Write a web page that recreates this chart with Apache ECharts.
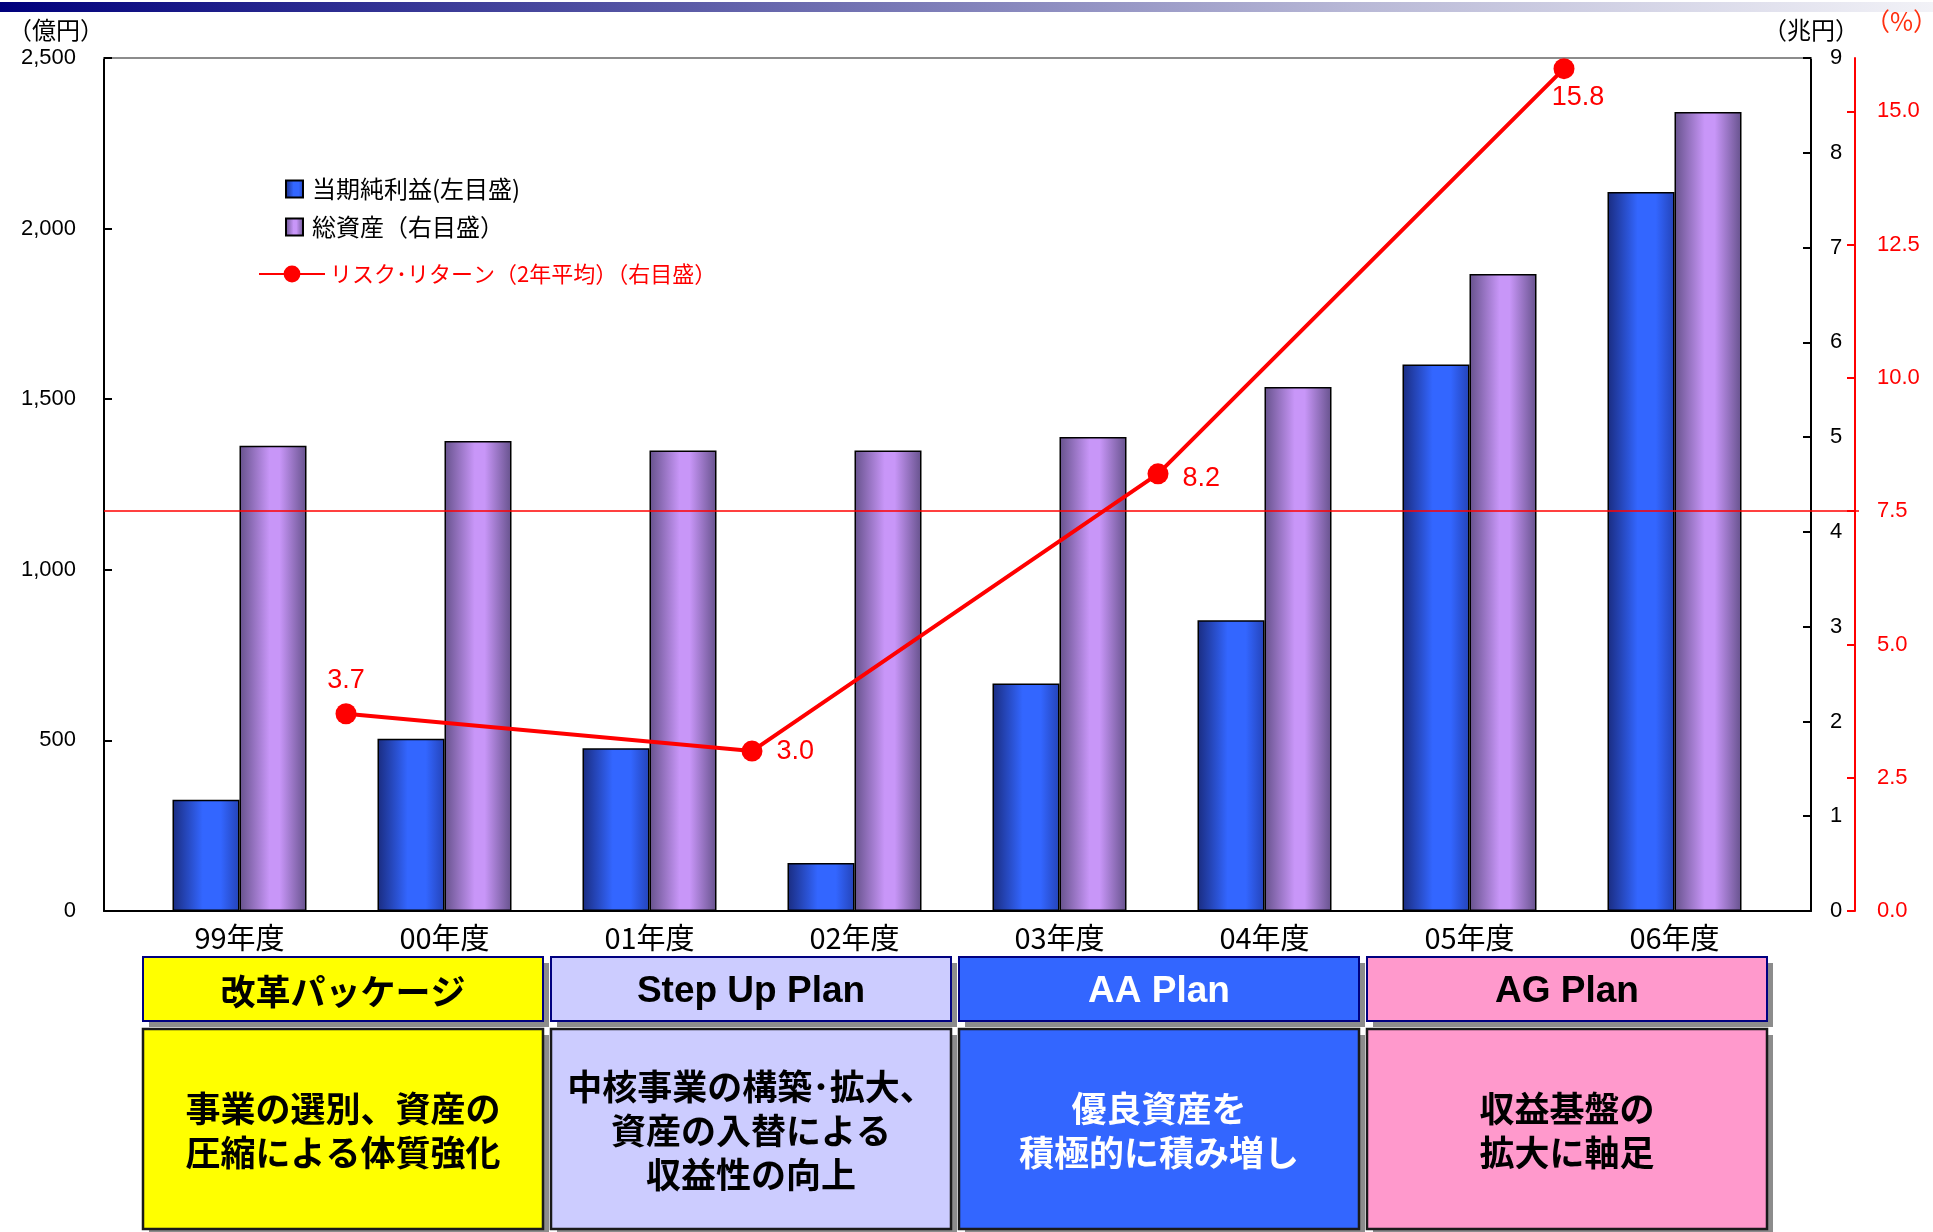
<!DOCTYPE html>
<html>
<head>
<meta charset="utf-8">
<script src="https://cdn.jsdelivr.net/npm/echarts@6/dist/echarts.min.js"></script>
<style>
  html, body { margin: 0; padding: 0; background: #ffffff; }
  #chart { width: 1933px; height: 1232px; }
</style>
</head>
<body>
<div id="chart"></div>
<script>
// ---- data ----
const categories = ['99年度', '00年度', '01年度', '02年度', '03年度', '04年度', '05年度', '06年度'];
const netIncome = [326, 505, 477, 141, 667, 852, 1602, 2107];            // 億円, left scale
const totalAssets = [4.91, 4.96, 4.86, 4.86, 5.00, 5.53, 6.72, 8.43];     // 兆円, right scale
const periods = ['99-00年度', '01-02年度', '03-04年度', '05-06年度'];
const riskReturn = [3.7, 3.0, 8.2, 15.8];                                 // %, 2-year average
const hurdleRate = 7.5;                                                   // % reference level
const pctTicks = [0, 2.5, 5, 7.5, 10, 12.5, 15];
const plans = ['改革パッケージ', 'Step Up Plan', 'AA Plan', 'AG Plan'];
const planNotes = [
  '事業の選別、資産の\n圧縮による体質強化',
  '中核事業の構築･拡大、\n資産の入替による\n収益性の向上',
  '優良資産を\n積極的に積み増し',
  '収益基盤の\n拡大に軸足'
];

const NAME_INCOME = '当期純利益(左目盛)';
const NAME_ASSETS = '総資産（右目盛）';
const NAME_RR = 'リスク･リターン（2年平均）（右目盛）';

// ---- layout / style ----
const W = 1933, H = 1232;
const FRAME = { left: 104, right: 1811, top: 58, bottom: 911 };
const BARS = { left: 137, right: 1777 };     // band area of the yearly bars
const LINE = { left: 143, right: 1767 };     // band area of the two-year line
const PLAN_AREA = { left: 139, right: 1771 }; // strip of plan boxes below the chart
const RED_AXIS_X = 1855;
const LATIN = '"Liberation Sans", "Noto Sans CJK JP", sans-serif';
const CJK = '"Noto Sans CJK JP", "Liberation Sans", sans-serif';
const RED = '#ff0000';

const rrLabelLayout = [
  { position: 'top', distance: 9 },
  { position: 'right', distance: 14 },
  { position: 'right', distance: 14, offset: [0, 5] },
  { position: 'bottom', distance: 5, offset: [14, 0] }
];
const planFill = ['#ffff00', '#ccccff', '#3366ff', '#ff99cc'];
const planInk = ['#000000', '#000000', '#ffffff', '#000000'];

function hGrad(stops) {
  return { type: 'linear', x: 0, y: 0, x2: 1, y2: 0,
    colorStops: stops.map(s => ({ offset: s[0], color: s[1] })) };
}
function gridBox(l, r) {
  return { left: l, right: W - r, top: FRAME.top, bottom: H - FRAME.bottom,
    outerBoundsMode: 'none', containLabel: false };
}

const chart = echarts.init(document.getElementById('chart'), null, { renderer: 'canvas' });

const option = {
  animation: false,
  backgroundColor: '#ffffff',
  textStyle: { fontFamily: LATIN },
  grid: [
    gridBox(FRAME.left, FRAME.right),
    gridBox(BARS.left, BARS.right),
    gridBox(LINE.left, LINE.right)
  ],
  legend: [
    {
      data: [NAME_INCOME, NAME_ASSETS],
      orient: 'vertical', left: 280, top: 172,
      icon: 'rect', itemWidth: 17, itemHeight: 17, itemGap: 14,
      textStyle: { fontSize: 24, color: '#000', fontFamily: CJK, padding: [0, 0, 0, 4] },
      selectedMode: false
    },
    {
      data: [NAME_RR],
      orient: 'vertical', left: 253, top: 258,
      itemWidth: 66, itemHeight: 21,
      textStyle: { fontSize: 22, color: RED, fontFamily: CJK },
      selectedMode: false
    }
  ],
  xAxis: [
    { // fiscal years
      gridIndex: 1, type: 'category', data: categories,
      axisLine: { show: false }, axisTick: { show: false },
      axisLabel: { fontSize: 29, color: '#000', margin: 12, fontFamily: CJK }
    },
    { // two-year periods for the risk-return line
      gridIndex: 2, type: 'category', data: periods, show: false
    },
    { // frame: bottom baseline
      gridIndex: 0, type: 'value', min: 0, max: 1, position: 'bottom',
      axisLine: { show: true, onZero: false, lineStyle: { color: '#000', width: 2 } },
      axisTick: { show: false }, axisLabel: { show: false }, splitLine: { show: false }
    },
    { // frame: top border
      gridIndex: 0, type: 'value', min: 0, max: 1, position: 'top',
      axisLine: { show: true, onZero: false, lineStyle: { color: '#8c8c8c', width: 2 } },
      axisTick: { show: false }, axisLabel: { show: false }, splitLine: { show: false }
    }
  ],
  yAxis: [
    { // 億円
      gridIndex: 1, type: 'value', position: 'left', offset: BARS.left - FRAME.left,
      min: 0, max: 2500, interval: 500,
      name: '（億円）', nameLocation: 'end', nameGap: 16,
      nameTextStyle: { fontSize: 24, color: '#000', fontFamily: CJK, align: 'right' },
      axisLine: { show: true, lineStyle: { color: '#000', width: 2 } },
      axisTick: { show: true, inside: true, length: 8, lineStyle: { color: '#000', width: 2 } },
      axisLabel: { fontSize: 22, color: '#000', margin: 28,
        formatter: v => v.toLocaleString('en-US') },
      splitLine: { show: false }
    },
    { // 兆円
      gridIndex: 1, type: 'value', position: 'right', offset: FRAME.right - BARS.right,
      min: 0, max: 9, interval: 1,
      name: '（兆円）', nameLocation: 'end', nameGap: 16,
      nameTextStyle: { fontSize: 24, color: '#000', fontFamily: CJK },
      axisLine: { show: true, lineStyle: { color: '#000', width: 2 } },
      axisTick: { show: true, inside: true, length: 8, lineStyle: { color: '#000', width: 2 } },
      axisLabel: { fontSize: 22, color: '#000', margin: 19 },
      splitLine: { show: false }
    },
    { // %
      gridIndex: 2, type: 'value', position: 'right', offset: RED_AXIS_X - LINE.right,
      min: 0, max: 16,
      name: '（%）', nameLocation: 'end', nameGap: 24,
      nameTextStyle: { fontSize: 25, color: '#ff3010', fontFamily: CJK, align: 'left', padding: [0, 0, 0, 10] },
      axisLine: { show: true, lineStyle: { color: RED, width: 2 } },
      axisTick: { show: true, inside: true, length: 8, customValues: pctTicks, lineStyle: { color: RED, width: 2 } },
      axisLabel: { fontSize: 22, color: RED, margin: 22, customValues: pctTicks,
        formatter: v => v.toFixed(1) },
      splitLine: { show: false }
    },
    { // frame helper
      gridIndex: 0, type: 'value', min: 0, max: 1, show: false
    }
  ],
  series: [
    {
      name: NAME_INCOME, type: 'bar', xAxisIndex: 0, yAxisIndex: 0,
      data: netIncome, barWidth: 67, barGap: '0%',
      itemStyle: {
        color: hGrad([[0, '#1a2c80'], [0.45, '#3366ff'], [0.72, '#3366ff'], [1, '#2443b8']]),
        borderColor: '#000', borderWidth: 1.5
      },
      z: 2
    },
    {
      name: NAME_ASSETS, type: 'bar', xAxisIndex: 0, yAxisIndex: 1,
      data: totalAssets, barWidth: 67, barGap: '0%',
      itemStyle: {
        color: hGrad([[0, '#66528c'], [0.45, '#c896f8'], [0.6, '#c896f8'], [1, '#66528c']]),
        borderColor: '#000', borderWidth: 1.5
      },
      z: 2
    },
    {
      name: NAME_RR, type: 'line', xAxisIndex: 1, yAxisIndex: 2,
      clip: false,
      data: riskReturn.map((v, i) => ({ value: v, label: rrLabelLayout[i] })),
      symbol: 'circle', symbolSize: 21,
      itemStyle: { color: RED },
      lineStyle: { color: RED, width: 4 },
      label: { show: true, fontSize: 27, color: RED, formatter: p => p.value.toFixed(1) },
      markLine: {
        silent: true, symbol: ['none', 'none'], animation: false,
        label: { show: false },
        lineStyle: { color: RED, width: 1.5, type: 'solid' },
        data: [[{ x: FRAME.left, yAxis: hurdleRate }, { x: RED_AXIS_X + 4, yAxis: hurdleRate }]]
      },
      z: 5
    }
  ]
};

chart.setOption(option);

// ---- plan boxes under each pair of fiscal years ----
const graphics = [{
  type: 'rect', silent: true, z: 0,
  shape: { x: 0, y: 2, width: W, height: 10 },
  style: { fill: hGrad([[0, '#00007c'], [0.35, '#5a5aa6'], [0.7, '#b8b8d6'], [1, '#f2f2f7']]) }
}];
const BOX_W = 400;
const slotW = (PLAN_AREA.right - PLAN_AREA.left) / plans.length;
const textShadow = (ink) => ink === '#ffffff'
  ? { textShadowColor: '#1a1a1a', textShadowOffsetX: 2, textShadowOffsetY: 2, textShadowBlur: 0 } : {};
plans.forEach((plan, k) => {
  const cx = PLAN_AREA.left + slotW * (k + 0.5);
  const x0 = cx - BOX_W / 2;
  // heading box
  graphics.push({ type: 'rect', silent: true, shape: { x: x0 + 6, y: 963, width: BOX_W, height: 64 },
    style: { fill: '#8c8c8c' } });
  graphics.push({ type: 'rect', silent: true, shape: { x: x0, y: 957, width: BOX_W, height: 64 },
    style: { fill: planFill[k], stroke: '#000080', lineWidth: 2 } });
  const latin = /^[A-Za-z ]+$/.test(plan);
  graphics.push({ type: 'text', silent: true, x: cx, y: 992,
    style: Object.assign({ text: plan, fill: planInk[k], align: 'center', verticalAlign: 'middle',
      fontSize: latin ? 37 : 35, fontWeight: 'bold', fontFamily: latin ? LATIN : CJK }, textShadow(planInk[k])) });
  // description box
  graphics.push({ type: 'rect', silent: true, shape: { x: x0 + 6, y: 1035, width: BOX_W, height: 200 },
    style: { fill: '#8c8c8c' } });
  graphics.push({ type: 'rect', silent: true, shape: { x: x0, y: 1029, width: BOX_W, height: 200 },
    style: { fill: planFill[k], stroke: '#1a1a1a', lineWidth: 2.5 } });
  graphics.push({ type: 'text', silent: true, x: cx, y: 1131,
    style: Object.assign({ text: planNotes[k], fill: planInk[k], align: 'center', verticalAlign: 'middle',
      fontSize: 35, lineHeight: 44, fontWeight: 'bold', fontFamily: CJK }, textShadow(planInk[k])) });
});
chart.setOption({ graphic: graphics });
</script>
</body>
</html>
